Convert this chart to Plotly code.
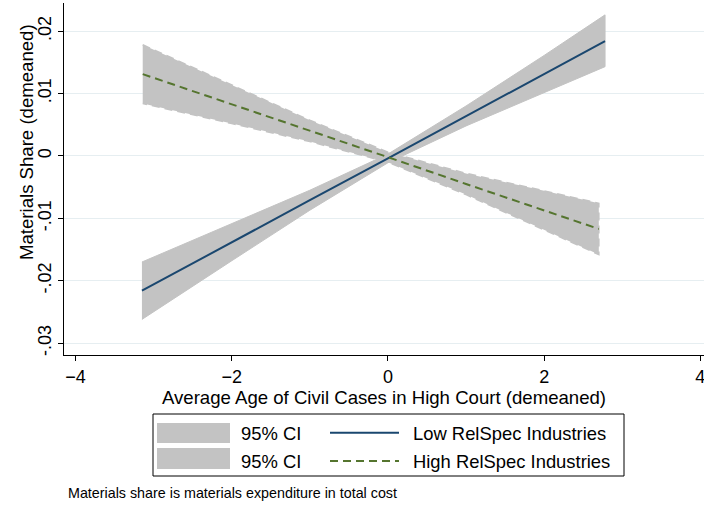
import plotly.graph_objects as go

# ---- data ----
x_low = [-3.15, -2, -1, 0, 1, 2, 2.78]
fit_low = [-0.0216, -0.0138, -0.0071, -0.0004, 0.0064, 0.0131, 0.0184]
lo_low = [-0.0262, -0.0168, -0.0087, -0.0011, 0.0048, 0.0101, 0.0143]
hi_low = [-0.0170, -0.0108, -0.0055, 0.0003, 0.0080, 0.0161, 0.0226]

x_high = [-3.14, -2, -1, 0, 1, 2, 2.70]
fit_high = [0.0131, 0.0083, 0.0040, -0.0002, -0.0045, -0.0087, -0.0117]
lo_high = [0.0084, 0.0052, 0.0023, -0.0010, -0.0062, -0.0118, -0.0158]
hi_high = [0.0178, 0.0114, 0.0057, 0.0006, -0.0028, -0.0056, -0.0076]

x_ticks = [-4, -2, 0, 2, 4]
y_ticks = [-0.03, -0.02, -0.01, 0, 0.01, 0.02]
y_tick_labels = ["-.03", "-.02", "-.01", "0", ".01", ".02"]

legend_labels = ["95% CI", "95% CI", "Low RelSpec Industries", "High RelSpec Industries"]
x_title = "Average Age of Civil Cases in High Court (demeaned)"
y_title = "Materials Share (demeaned)"
note_text = "Materials share is materials expenditure in total cost"

NAVY = "#1a476f"
GREEN = "#55752f"
GRAY = "#c3c3c3"
FONT = "Liberation Sans, Arial, sans-serif"
FS = 18.6

W, H = 704, 506
L, R, T, B = 64, 0, 3, 151
PW, PH = W - L - R, H - T - B


def px(xp):
    return (xp - L) / PW


def py(yp):
    return (H - B - yp) / PH


fig = go.Figure()


def band(xs, lo, hi, line):
    fig.add_trace(go.Scatter(
        x=list(xs) + list(xs)[::-1], y=list(hi) + list(lo)[::-1],
        fill="toself", fillcolor=GRAY, mode="lines",
        line=line, showlegend=False, hoverinfo="skip"))


band(x_low, lo_low, hi_low, dict(color=GRAY, width=1))
band(x_high, lo_high, hi_high, dict(color=GRAY, width=1.6, dash="8px,5px"))

fig.add_trace(go.Scatter(x=x_low, y=fit_low, mode="lines",
                         line=dict(color=NAVY, width=2), showlegend=False))
fig.add_trace(go.Scatter(x=x_high, y=fit_high, mode="lines",
                         line=dict(color=GREEN, width=2, dash="8px,5px"), showlegend=False))

shapes = []
annotations = []
# legend box
shapes.append(dict(type="rect", xref="paper", yref="paper",
                   x0=px(153), x1=px(624), y0=py(476), y1=py(414),
                   line=dict(color="black", width=1), fillcolor="white"))
# CI keys
for (y0, y1) in [(423, 443), (448, 469)]:
    shapes.append(dict(type="rect", xref="paper", yref="paper",
                       x0=px(157), x1=px(230), y0=py(y1), y1=py(y0),
                       line=dict(width=0), fillcolor=GRAY))
shapes.append(dict(type="line", xref="paper", yref="paper",
                   x0=px(330), x1=px(399), y0=py(432.7), y1=py(432.7),
                   line=dict(color=NAVY, width=2)))
shapes.append(dict(type="line", xref="paper", yref="paper",
                   x0=px(330), x1=px(399), y0=py(461), y1=py(461),
                   line=dict(color=GREEN, width=2, dash="8px,5px")))

for txt, xx, yy in [(legend_labels[0], 239, 433.8), (legend_labels[1], 239, 461.7),
                    (legend_labels[2], 411, 433.8), (legend_labels[3], 411, 461.7)]:
    annotations.append(dict(text=txt, xref="paper", yref="paper", x=px(xx), y=py(yy),
                            xanchor="left", yanchor="middle", showarrow=False,
                            font=dict(family=FONT, size=18.4, color="black")))

annotations.append(dict(text=note_text, xref="paper", yref="paper", x=px(66), y=py(492.5),
                        xanchor="left", yanchor="middle", showarrow=False,
                        font=dict(family=FONT, size=14.3, color="black")))

# y-axis title
annotations.append(dict(text=y_title, xref="paper", yref="paper", x=px(26), y=py(142),
                        xanchor="center", yanchor="middle", textangle=-90, showarrow=False,
                        font=dict(family=FONT, size=FS, color="black")))

fig.update_layout(
    width=W, height=H,
    margin=dict(l=L, r=R, t=T, b=B, pad=0),
    paper_bgcolor="white", plot_bgcolor="white",
    font=dict(family=FONT, size=FS, color="black"),
    showlegend=False,
    shapes=shapes, annotations=annotations,
    xaxis=dict(range=[-4.148, 4.047], tickvals=x_ticks, ticks="outside", ticklen=5,
               tickcolor="black", showline=True, linecolor="black", linewidth=1,
               showgrid=False, zeroline=False, automargin=False,
               ticklabeloverflow="allow",
               title=dict(text=x_title, font=dict(size=FS), standoff=1),
               tickfont=dict(size=18)),
    yaxis=dict(range=[-0.0319, 0.0245], tickvals=y_ticks, ticktext=y_tick_labels,
               tickangle=-90, ticks="outside", ticklen=5, tickcolor="black",
               showline=True, linecolor="black", linewidth=1, automargin=False,
               ticklabeloverflow="allow",
               showgrid=True, gridcolor="#e6eef1", gridwidth=1, zeroline=False,
               tickfont=dict(size=18)),
)

fig.write_html("out.html", config={"displayModeBar": False},
               post_script="document.body.style.margin='0';document.body.style.padding='0';")
